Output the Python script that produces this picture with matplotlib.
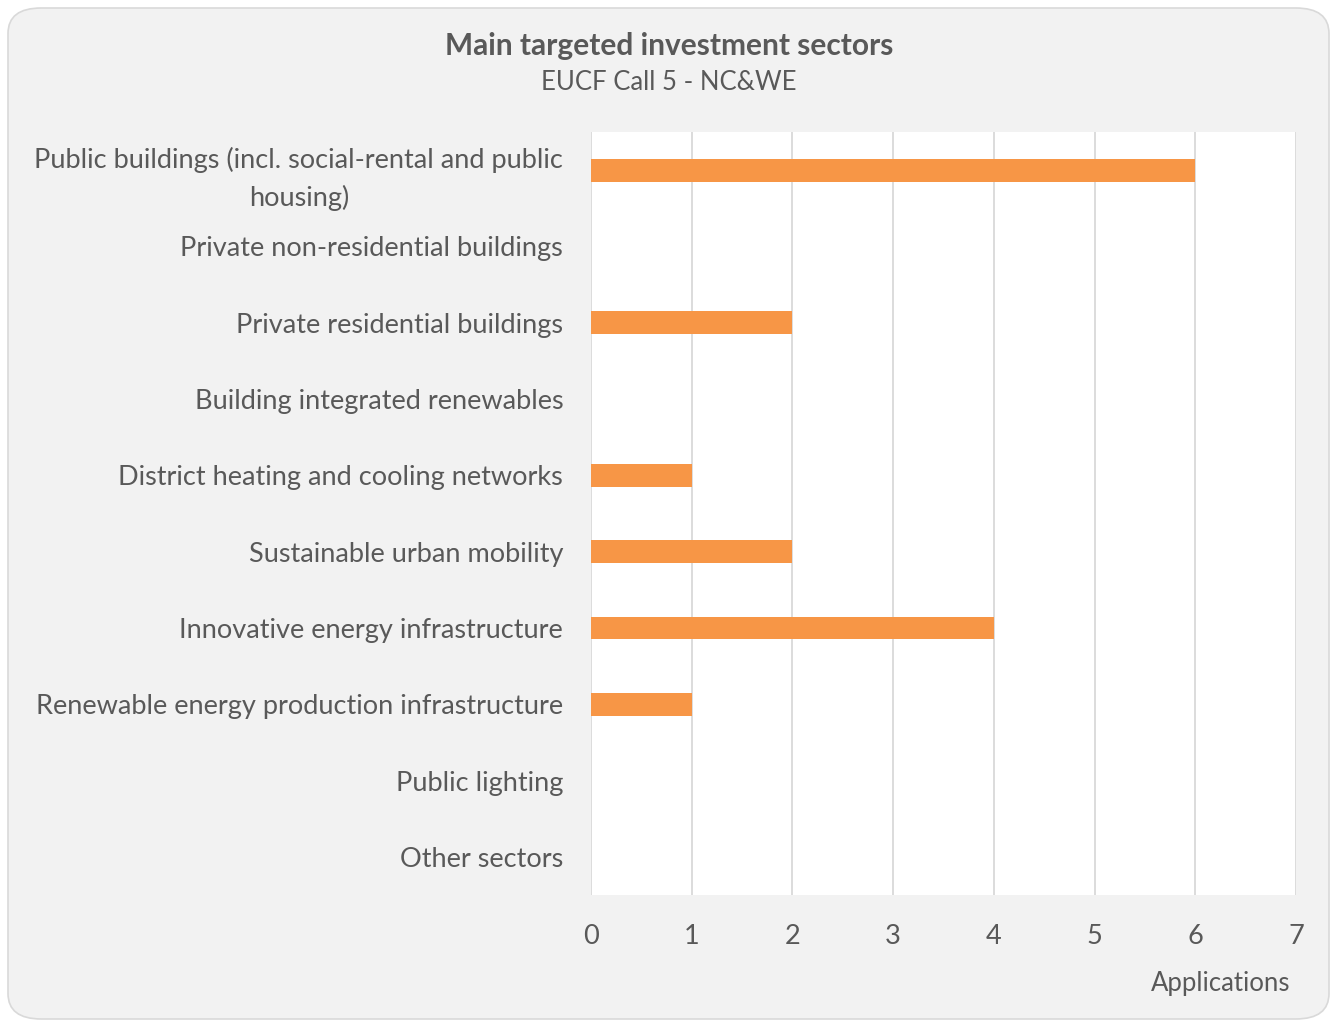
import matplotlib.pyplot as plt
from matplotlib.patches import FancyBboxPatch
import numpy as np

# data
sectors = [
    "Public buildings (incl. social-rental and public\nhousing)",
    "Private non-residential buildings",
    "Private residential buildings",
    "Building integrated renewables",
    "District heating and cooling networks",
    "Sustainable urban mobility",
    "Innovative energy infrastructure",
    "Renewable energy production infrastructure",
    "Public lighting",
    "Other sectors",
]
applications = [6, 0, 2, 0, 1, 2, 4, 1, 0, 0]
x_ticks = [0, 1, 2, 3, 4, 5, 6, 7]

TEXT = "#595959"
BAR = "#F79646"
plt.rcParams['font.family'] = ['Lato', 'DejaVu Sans']

W, H = 1331, 1021
fig = plt.figure(figsize=(W / 100, H / 100), dpi=100)
fig.patch.set_facecolor("white")

# rounded grey panel behind everything
panel = FancyBboxPatch((8 / W, 2 / H), (W - 10) / W, (H - 10) / H,
                       boxstyle="round,pad=0,rounding_size=0.025",
                       transform=fig.transFigure, facecolor="#f2f2f2",
                       edgecolor="#d9d9d9", linewidth=1.2, zorder=-10)
fig.patches.append(panel)

ax = fig.add_axes([591 / W, 1 - 895 / H, (1296 - 591) / W, (895 - 132) / H])
ax.set_facecolor("white")

y = np.arange(len(sectors))
ax.barh(y, applications, height=0.3, color=BAR, zorder=3)
ax.set_ylim(len(sectors) - 0.5, -0.5)
ax.set_xlim(0, 7)
ax.set_xticks(x_ticks)
ax.set_yticks(y)
ax.set_yticklabels(sectors, fontsize=19.5, color=TEXT, fontweight='normal',
                   ha='right', multialignment='center', linespacing=1.6)
ax.tick_params(axis='y', length=0, pad=20)
ax.tick_params(axis='x', length=0, pad=21, labelsize=19.5, labelcolor=TEXT)
ax.grid(axis='x', color="#d9d9d9", linewidth=1.3, zorder=0)
for s in ax.spines.values():
    s.set_visible(False)

fig.text(669 / W, 1 - 46 / H, "Main targeted investment sectors", ha='center',
         va='center', fontsize=21.5, fontweight='bold', color=TEXT)
fig.text(669 / W, 1 - 82 / H, "EUCF Call 5 - NC&WE", ha='center',
         va='center', fontsize=18.5, fontweight='normal', color=TEXT)
fig.text(1290 / W, 1 - 983 / H, "Applications", ha='right', va='center',
         fontsize=18.5, fontweight='normal', color=TEXT)

fig.savefig("out.png", dpi=100)
